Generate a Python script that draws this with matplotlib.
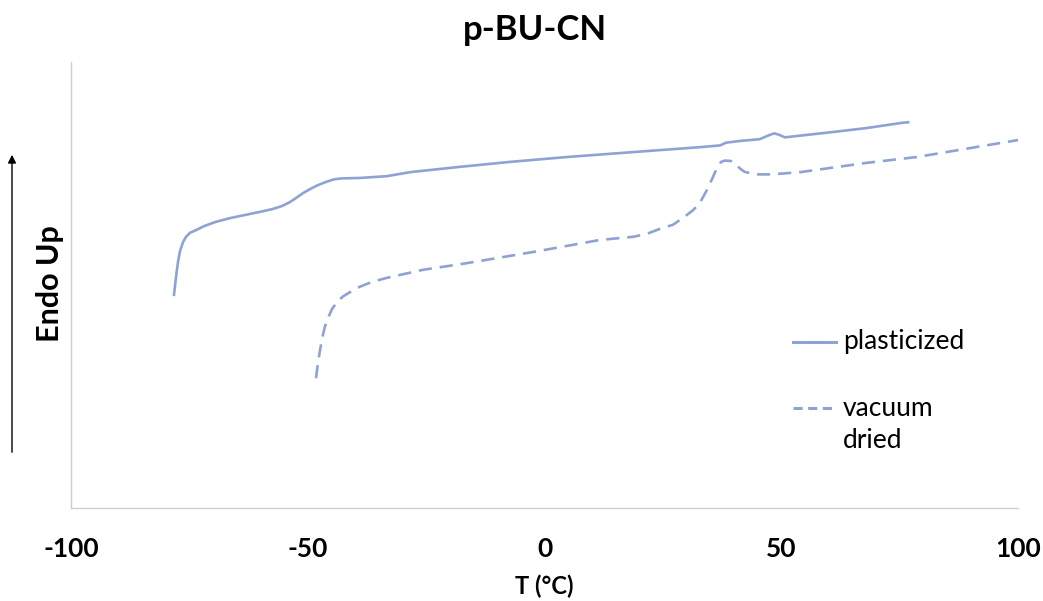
import matplotlib
matplotlib.use("Agg")
import matplotlib.pyplot as plt
from matplotlib.lines import Line2D

title = "p-BU-CN"
x_label = "T (°C)"
y_label = "Endo Up"
x_ticks = [-100, -50, 0, 50, 100]
series_names = ["plasticized", "vacuum", "dried"]

# plasticized curve (T in °C, heat flow in arbitrary units)
plast_T = [-78.25, -77.82, -77.40, -76.98, -76.35, -75.71, -74.87, -73.60, -71.91, -69.59,
           -66.42, -63.25, -60.08, -57.55, -55.44, -53.75, -52.48, -51.00, -49.52, -47.84,
           -46.15, -44.46, -42.77, -38.97, -33.3, -28.4, -17.8, -7.3, 4.8, 18.7,
           32.8, 37.1, 38.3, 41.3, 45.5, 47.2, 48.5, 49.5, 50.8, 54.1,
           60.9, 68.1, 75.1, 76.8]
plast_Y = [4.78, 5.18, 5.52, 5.76, 5.96, 6.08, 6.17, 6.23, 6.32, 6.41,
           6.50, 6.57, 6.64, 6.70, 6.77, 6.86, 6.95, 7.06, 7.15, 7.24,
           7.31, 7.37, 7.39, 7.40, 7.44, 7.53, 7.65, 7.76, 7.87, 7.98,
           8.09, 8.13, 8.19, 8.23, 8.27, 8.35, 8.40, 8.37, 8.31, 8.35,
           8.43, 8.52, 8.63, 8.65]

# vacuum dried curve
vac_T = [-48.25, -47.83, -47.40, -46.99, -46.40, -45.72, -44.88, -43.82, -42.60, -41.08,
         -39.00, -36.43, -33.3, -25.7, -16.4, -2.4, 11.7, 18.7, 21.7, 24.4,
         27.1, 29.2, 31.4, 32.8, 34.3, 35.4, 36.4, 37.3, 38.1, 39.4,
         40.2, 41.2, 42.2, 43.7, 45.2, 47.9, 54.0, 68.1, 78.7, 100.0]
vac_Y = [2.91, 3.27, 3.54, 3.79, 4.06, 4.26, 4.46, 4.62, 4.74, 4.84,
         4.96, 5.07, 5.16, 5.34, 5.49, 5.74, 6.01, 6.08, 6.15, 6.26,
         6.35, 6.50, 6.68, 6.84, 7.13, 7.38, 7.62, 7.76, 7.79, 7.78,
         7.72, 7.62, 7.54, 7.50, 7.48, 7.48, 7.53, 7.74, 7.87, 8.25]

color = "#8FA2D4"
plt.rcParams["font.family"] = ["Lato", "DejaVu Sans"]

fig = plt.figure(figsize=(10.43, 6.01), dpi=100)
ax = fig.add_axes([71 / 1043, 93 / 601, (1018 - 71) / 1043, (508 - 62) / 601])

dash = (0, (5, 3))
ax.plot(plast_T, plast_Y, color=color, lw=1.9)
ax.plot(vac_T, vac_Y, color=color, lw=1.9, linestyle=dash)

ax.set_xlim(-100, 100)
ax.set_ylim(0, 10)
ax.set_xticks(x_ticks)
ax.set_xticklabels([str(t) for t in x_ticks], fontsize=19, fontweight="bold")
ax.set_yticks([])
ax.tick_params(axis="x", length=0, pad=21)
for s in ["top", "right"]:
    ax.spines[s].set_visible(False)
for s in ["left", "bottom"]:
    ax.spines[s].set_color("#d0d0d0")
    ax.spines[s].set_linewidth(1.0)

fig.text(544 / 1043, 1 - 586 / 601, x_label, fontsize=17, fontweight="bold",
         ha="center", va="center")
fig.text(50 / 1043, 1 - 284 / 601, y_label, rotation=90, fontsize=22,
         fontweight="bold", ha="center", va="center")
fig.text(535 / 1043, 1 - 30 / 601, title, fontsize=25, fontweight="bold",
         ha="center", va="center")

# Endo arrow
fig.add_artist(matplotlib.patches.FancyArrowPatch(
    (12 / 1043, 1 - 455 / 601), (12 / 1043, 1 - 152 / 601),
    transform=fig.transFigure, arrowstyle="-|>", mutation_scale=12,
    color="black", lw=1.0))

# legend (manual, to match layout)
def ax_xy(px, py):
    return (px - 71) / 947, (508 - py) / 446

x0, y0 = ax_xy(793, 342)
x1, _ = ax_xy(836, 342)
xt, _ = ax_xy(843, 342)
ax.add_line(Line2D([x0, x1], [y0, y0], transform=ax.transAxes, color=color, lw=2.2))
ax.text(xt, y0, series_names[0], transform=ax.transAxes, fontsize=19, va="center", ha="left")
_, y1 = ax_xy(793, 408)
_, y2 = ax_xy(793, 441)
ax.add_line(Line2D([x0, x1], [y1, y1], transform=ax.transAxes, color=color, lw=2.2,
                   linestyle=(0, (3, 1.8))))
ax.text(xt, y1, series_names[1], transform=ax.transAxes, fontsize=19, va="center", ha="left")
ax.text(xt, y2, series_names[2], transform=ax.transAxes, fontsize=19, va="center", ha="left")

fig.savefig("out.png", dpi=100)
